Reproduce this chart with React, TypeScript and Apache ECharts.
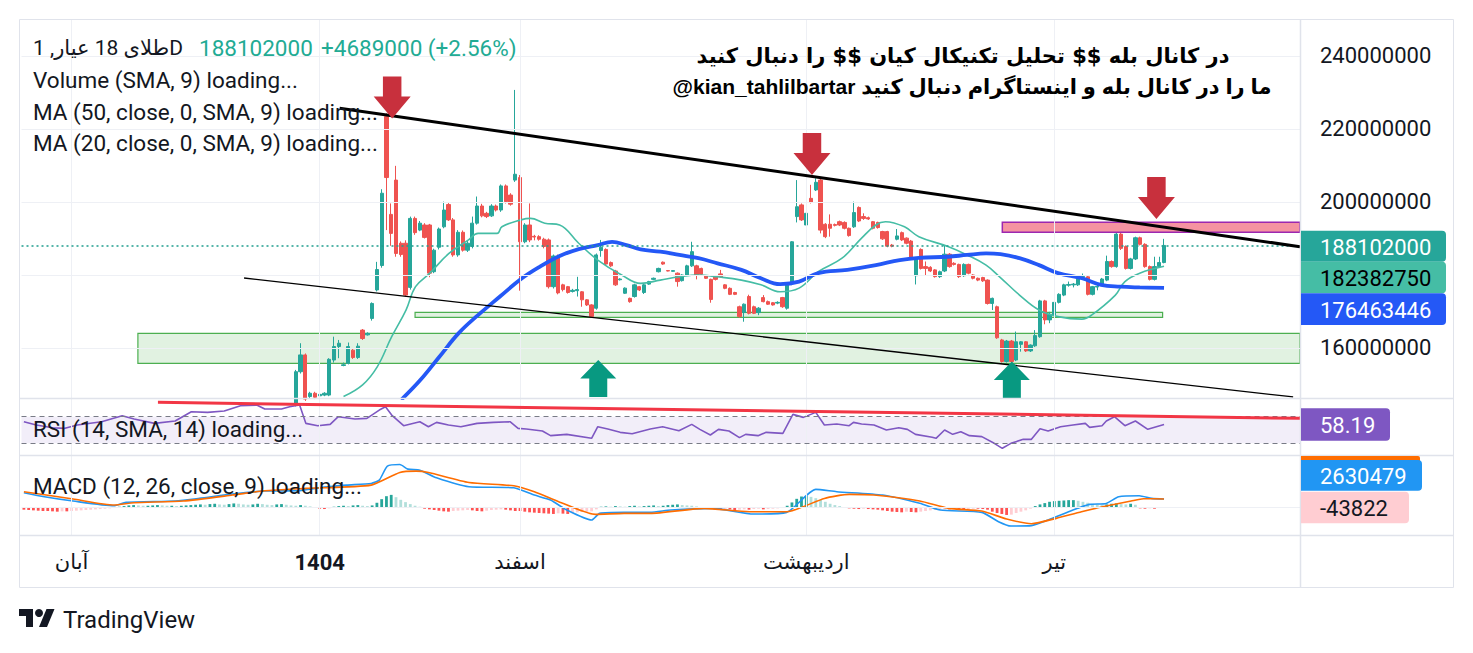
import { useEffect, useRef } from 'react';
import * as echarts from 'echarts';

const FONT = 'Roboto, "DejaVu Sans", sans-serif';
const N_SLOTS = 268;
const CANDLE_START = 57;

// candles [open, close, low, high] in millions, index CANDLE_START..239
const candles = [
  [144.5, 153.5, 144.0, 154.0], [153.5, 158.1, 153.0, 161.3], [158.1, 146.0, 145.5, 158.5], [146.7, 147.6, 146.2, 148.0],
  [147.6, 146.5, 146.0, 148.0], [146.9, 147.3, 146.6, 147.7], [147.1, 147.6, 146.8, 147.9], [147.1, 156.9, 146.8, 157.2],
  [156.7, 160.4, 156.0, 163.1], [160.4, 161.3, 157.2, 162.2], [155.2, 155.4, 155.0, 156.0], [155.8, 160.4, 155.5, 161.5],
  [159.4, 157.4, 157.0, 160.0], [157.4, 160.5, 157.0, 161.3], [164.9, 162.6, 162.2, 165.2], [163.6, 164.0, 163.4, 164.3],
  [168.1, 172.2, 167.5, 172.5], [175.9, 181.5, 175.5, 183.6], [182.6, 202.4, 182.0, 203.5], [223.4, 206.7, 192.3, 224.3],
  [196.6, 191.4, 188.0, 199.6], [206.0, 185.9, 185.0, 209.9], [188.7, 185.6, 185.0, 189.2], [188.7, 174.5, 174.0, 189.5],
  [176.6, 195.5, 176.0, 196.0], [195.5, 191.6, 191.0, 196.0], [192.3, 194.2, 192.0, 194.8], [193.7, 190.3, 190.0, 194.2],
  [193.7, 180.5, 179.4, 194.0], [180.9, 186.8, 180.5, 187.2], [187.6, 192.6, 187.0, 193.0], [193.2, 197.8, 192.8, 200.1],
  [199.3, 195.1, 194.8, 199.7], [195.1, 185.5, 185.0, 195.6], [185.5, 191.7, 185.0, 192.3], [191.7, 186.8, 186.4, 192.2],
  [186.8, 188.7, 186.3, 189.3], [187.8, 194.2, 187.3, 196.0], [194.2, 198.9, 193.8, 201.5], [198.9, 196.2, 195.8, 199.5],
  [196.9, 196.0, 195.6, 197.3], [196.2, 198.9, 195.9, 199.4], [198.9, 197.8, 197.4, 199.3], [197.8, 204.4, 197.3, 204.8],
  [204.4, 200.1, 199.6, 204.8], [201.9, 199.4, 199.0, 202.4], [206.0, 207.6, 205.5, 230.7], [206.7, 189.1, 175.7, 207.4],
  [189.1, 193.7, 188.7, 194.2], [193.7, 189.6, 189.0, 199.6], [190.6, 190.4, 189.5, 191.0], [190.5, 189.8, 189.4, 190.9],
  [189.8, 187.8, 187.3, 190.2], [189.6, 176.8, 176.3, 190.0], [176.8, 185.2, 176.3, 185.6], [185.2, 175.1, 174.7, 185.6],
  [177.3, 176.0, 175.5, 177.6], [176.8, 175.2, 174.9, 177.0], [175.5, 175.8, 175.2, 176.2], [175.7, 176.0, 174.1, 179.5],
  [175.4, 173.2, 171.3, 175.6], [173.2, 171.8, 171.5, 173.4], [171.8, 168.6, 168.3, 172.0], [170.9, 185.5, 170.5, 185.9],
  [186.7, 187.6, 185.0, 189.6], [187.0, 183.0, 182.7, 187.3], [183.4, 182.5, 182.2, 183.7], [181.1, 177.3, 177.0, 181.4],
  [178.7, 178.9, 178.5, 179.1], [175.0, 176.4, 174.8, 176.6], [173.6, 172.7, 172.4, 173.8], [174.1, 177.3, 173.8, 177.6],
  [176.8, 175.9, 175.6, 177.0], [175.2, 177.3, 174.8, 177.5], [177.5, 178.2, 177.3, 178.4], [178.8, 179.1, 178.6, 179.3],
  [180.9, 181.8, 180.7, 182.0], [183.5, 183.0, 182.8, 183.7], [181.2, 181.1, 181.0, 181.3], [181.0, 181.2, 180.9, 181.3],
  [180.5, 178.2, 176.8, 180.7], [178.45, 180.0, 178.2, 180.2], [180.0, 182.5, 179.8, 182.8], [182.5, 186.4, 182.2, 189.1],
  [182.5, 180.0, 178.8, 182.8], [181.8, 180.2, 180.0, 182.0], [179.7, 179.1, 178.9, 179.9], [178.8, 173.3, 172.4, 179.0],
  [179.7, 178.8, 178.5, 180.0], [180.3, 179.5, 179.3, 181.4], [177.3, 176.35, 176.1, 177.5], [176.35, 174.7, 174.5, 176.6],
  [175.2, 174.7, 174.5, 175.4], [171.3, 168.6, 168.3, 171.6], [169.7, 172.0, 167.2, 172.2], [174.1, 169.5, 169.2, 174.6],
  [171.3, 169.5, 169.3, 171.6], [169.7, 170.9, 169.0, 171.2], [173.8, 172.7, 172.5, 174.5], [172.7, 172.0, 171.8, 173.0],
  [172.4, 171.8, 171.6, 172.6], [172.3, 172.5, 172.0, 172.8], [173.8, 171.3, 171.0, 174.0], [170.9, 177.7, 170.5, 178.0],
  [177.7, 189.1, 177.2, 189.3], [196.0, 198.7, 194.4, 206.0], [199.2, 195.1, 194.8, 199.6], [193.7, 196.9, 193.4, 197.2],
  [201.0, 199.9, 199.6, 204.7], [203.3, 205.4, 203.0, 206.5], [206.0, 192.3, 191.4, 206.3], [193.9, 190.5, 190.1, 194.2],
  [193.9, 192.8, 190.5, 196.6], [193.8, 193.6, 193.3, 194.1], [194.6, 193.7, 193.4, 194.9], [194.4, 192.8, 192.5, 194.7],
  [192.8, 190.8, 190.5, 193.0], [193.2, 197.1, 192.9, 200.1], [198.5, 194.8, 194.5, 198.8], [196.0, 195.5, 195.1, 196.9],
  [195.7, 195.35, 195.1, 196.0], [194.6, 192.8, 192.5, 194.8], [194.4, 193.0, 192.7, 194.6], [191.9, 189.9, 189.6, 192.1],
  [191.9, 187.9, 187.6, 192.1], [188.2, 187.9, 187.6, 188.5], [189.8, 190.7, 189.5, 192.6], [191.6, 189.6, 189.3, 191.9],
  [190.1, 188.7, 188.4, 190.3], [189.3, 184.6, 184.3, 189.6], [179.8, 184.4, 177.4, 184.7], [187.0, 181.8, 181.5, 187.3],
  [182.3, 181.8, 180.0, 183.7], [182.1, 181.1, 180.8, 182.4], [181.4, 179.55, 179.3, 181.6], [179.55, 180.9, 179.2, 181.2],
  [181.1, 185.7, 180.8, 188.2], [185.7, 182.3, 182.0, 186.0], [183.2, 182.9, 182.6, 183.5], [182.9, 179.55, 179.2, 183.1],
  [179.8, 182.9, 179.5, 183.2], [182.9, 180.5, 180.2, 183.1], [180.0, 179.1, 178.8, 180.2], [179.1, 178.6, 178.3, 179.3],
  [179.3, 178.4, 178.1, 179.5], [178.6, 172.2, 171.9, 178.8], [172.2, 173.6, 170.4, 173.8], [171.3, 162.8, 162.5, 171.6],
  [162.2, 156.3, 156.0, 162.5], [156.3, 161.9, 156.0, 162.2], [161.9, 156.3, 156.0, 162.2], [156.7, 161.7, 156.4, 164.5],
  [161.0, 161.7, 159.0, 161.9], [161.7, 159.2, 158.9, 161.9], [159.2, 160.8, 158.9, 161.0], [160.6, 163.4, 160.3, 164.9],
  [163.1, 172.9, 162.8, 173.2], [172.9, 167.7, 166.5, 173.2], [167.7, 169.2, 166.8, 169.9], [169.0, 172.5, 168.7, 172.8],
  [172.5, 174.7, 172.2, 175.0], [174.5, 177.3, 174.2, 177.6], [177.2, 177.4, 176.8, 178.2], [177.3, 177.5, 176.6, 177.8],
  [177.3, 179.3, 177.0, 179.6], [179.4, 179.6, 179.2, 180.4], [179.5, 174.7, 174.4, 179.8], [174.7, 176.8, 174.4, 177.0],
  [176.7, 176.9, 175.8, 177.6], [177.3, 178.9, 177.0, 179.2], [178.6, 183.7, 178.3, 185.3], [183.7, 182.3, 182.0, 184.0],
  [182.3, 191.2, 182.0, 191.5], [191.2, 187.3, 186.85, 191.5], [187.8, 181.8, 181.5, 188.1], [181.8, 184.4, 181.5, 184.7],
  [184.4, 190.2, 184.1, 190.5], [190.2, 188.4, 188.1, 190.5], [188.4, 182.3, 182.0, 188.7], [182.3, 178.8, 178.5, 182.6],
  [178.8, 182.3, 178.5, 185.0], [182.3, 183.413, 182.0, 185.0], [183.413, 188.102, 183.2, 189.9],
];

const ma20Idx = [67, 71, 74.1, 77.1, 80.1, 82.1, 85.1, 89.1, 93.2, 95.2, 99.2, 100.2, 104.2, 106.2, 109.2, 112.3, 116.3, 120.3, 125.3, 129.3, 133.4, 137.4, 141.4, 145.4, 150.4, 154.5, 158.5, 162.5, 166.5, 171.5, 175.6, 178.6, 180.6, 184.6, 187.6, 193.7, 197.7, 201.7, 204.7, 208.7, 212.8, 216.8, 221.8, 223.8, 228.8, 230.8, 233.9, 239];
const ma20Val = [146.7, 149.9, 154.9, 163.1, 170.4, 176.8, 180.5, 185.9, 189.6, 191.4, 191.4, 193.2, 195.1, 195.5, 194.2, 193.7, 188.7, 184.1, 180.0, 177.7, 178.6, 179.5, 180.0, 179.5, 178.6, 177.3, 175.4, 176.4, 180.9, 184.6, 190.1, 193.7, 194.6, 193.2, 190.5, 187.8, 185.5, 182.7, 179.3, 174.5, 170.4, 168.6, 167.9, 169.0, 174.5, 178.2, 180.5, 182.38275];

const ma50Idx = [79.1, 83.1, 87.1, 91.1, 95.2, 99.8, 104.2, 108.2, 112.3, 116.3, 120.3, 123.3, 126.3, 129.3, 133.4, 137.4, 141.4, 145.4, 150.4, 154.5, 158.5, 162.5, 166.5, 172.6, 178.6, 183.6, 187.6, 193.7, 197.7, 201.7, 204.7, 208.7, 212.8, 216.8, 221.8, 225.8, 229.8, 233.9, 239];
const ma50Val = [145.8, 151.2, 157.6, 164.0, 169.0, 174.1, 178.9, 182.3, 185.2, 187.1, 188.2, 189.1, 188.2, 187.0, 186.4, 185.5, 184.6, 183.2, 181.4, 179.1, 177.5, 178.2, 180.5, 181.4, 182.7, 184.1, 184.7, 185.0, 185.5, 185.9, 185.7, 184.6, 182.7, 180.5, 179.1, 177.3, 176.8, 176.6, 176.463446];

const rsiIdx = [0, 2.6, 6.0, 8.6, 11.2, 16.3, 20.6, 23.1, 27.4, 31.7, 35.1, 38.5, 42.0, 45.4, 48.8, 50.5, 54.0, 55.7, 57.8, 59.1, 61.6, 64.2, 65.9, 69.4, 71.9, 74.5, 75.8, 77.1, 79.6, 83.0, 84.8, 86.5, 89.0, 91.6, 95.0, 98.4, 101.9, 103.6, 105.3, 108.7, 110.4, 113.8, 119.0, 120.3, 122.4, 125.0, 127.5, 131.3, 133.9, 137.3, 140.0, 141.7, 143.9, 145.6, 147.8, 150.0, 151.3, 153.9, 155.6, 159.1, 161.2, 163.4, 166.0, 167.8, 170.4, 173.0, 173.9, 175.6, 178.2, 180.8, 183.4, 185.2, 186.9, 190.4, 191.2, 193.0, 194.7, 196.4, 198.2, 200.8, 203.4, 205.1, 206.9, 209.5, 211.2, 213.0, 214.7, 217.3, 219.9, 222.5, 223.4, 226.0, 226.9, 228.6, 230.8, 233.0, 235.6, 239.0];
const rsiVal = [62.5, 57.5, 53.5, 52.5, 57.5, 62.5, 71.5, 66.5, 60, 63.5, 77.5, 76.5, 78.5, 86.5, 87.5, 81.5, 81.5, 85, 87.5, 60, 56.5, 58.5, 70, 66.5, 67.5, 80, 85, 72.5, 56.5, 62.5, 55, 61.5, 57.5, 55, 60, 61.5, 62.5, 52.5, 51.5, 48.5, 41.5, 43.5, 37.5, 55, 51.5, 46.5, 44.5, 51.5, 55, 49, 58.5, 51, 42.5, 51, 48.5, 38.5, 43.5, 41.5, 46.5, 45, 73.5, 69, 76.5, 57.5, 59, 56.5, 61.5, 59, 57.5, 50, 53.5, 51, 43.5, 39, 37.5, 50, 43.5, 47.5, 41.5, 40, 30, 22.5, 30, 36, 36, 52, 48.5, 55, 57.5, 60, 54, 56.5, 63.5, 70, 56.5, 63.5, 51, 58.19];
const rsiLevels = [70, 30];

// MACD values in millions
const macdIdx = [0, 4.3, 10.3, 18.9, 21.4, 31.7, 36.8, 43.7, 50.5, 57.4, 62.5, 67.6, 72.8, 74.5, 76.2, 78.8, 80.5, 83.0, 86.5, 93.3, 102.7, 107.0, 110.4, 113.8, 119.0, 120.7, 125.8, 131.3, 135.6, 144.3, 153.0, 159.9, 166.0, 170.4, 180.0, 187.8, 192.1, 200.8, 204.3, 206.9, 211.2, 214.7, 219.9, 223.4, 226.9, 229.5, 233.8, 236.4, 239.0];
const macdVal = [4.55, 3.34, 2.03, 0.61, 1.62, 2.03, 2.84, 4.15, 5.06, 5.16, 6.17, 6.87, 7.38, 8.39, 12.63, 13.13, 11.72, 11.41, 9.09, 6.36, 6.06, 3.84, 2.33, -0.71, -3.74, -1.72, -1.41, -1.41, -0.71, -0.20, -1.92, -1.41, 5.56, 4.86, 3.84, 1.33, -0.71, -1.41, -4.24, -5.56, -5.45, -3.74, -0.71, 1.01, 1.31, 3.33, 3.64, 2.83, 2.63];
const signalIdx = [0, 10.3, 18.9, 23.1, 33.4, 43.7, 50.5, 59.1, 72.8, 78.8, 82.2, 84.8, 93.3, 102.7, 107.0, 112.1, 119.8, 125.8, 131.3, 142.6, 152.1, 159.9, 167.8, 173.0, 178.2, 187.8, 193.9, 200.8, 206.0, 211.2, 216.4, 221.7, 226.9, 232.1, 234.7, 239.0];
const signalVal = [4.85, 2.64, 0.81, 1.52, 2.03, 3.84, 5.16, 5.87, 6.87, 10.71, 11.11, 10.71, 7.68, 6.67, 4.85, 1.82, -2.02, -1.72, -1.72, -0.20, -1.21, -1.21, 2.83, 4.04, 3.84, 2.03, -0.20, -1.01, -3.43, -4.85, -3.23, -1.21, 0.51, 2.03, 2.73, 2.67];
const macdHist = [
  -0.6, -0.7, -0.8, -0.9, -1.0, -1.0, -1.1, -1.2,
  -1.1, -1.1, -1.0, -0.9, -0.8, -0.7, -0.6, -0.5, -0.4, -0.3, -0.2, -0.1,
  0.3, 0.5, 0.7, 0.8, 0.7, 0.6, 0.6, 0.7, 0.8, 0.7, 0.6, 0.6, 0.5, 0.6, 0.7, 0.8,
  0.9, 1.0, 0.9, 1.1, 1.2, 1.0, 0.9, 1.1, 1.3, 1.2, 1.0, 0.9, 1.0, 1.2, 1.1, 0.9, 0.8, 1.0, 1.1, 0.9, 0.7, 0.6, 0.8, 0.6, 0.4, 0.2,
  -0.3, -0.4, -0.2,
  0.3, 0.5, 0.6, 0.5, 0.7, 0.8, 0.6, 0.5, 0.7,
  1.5, 2.6, 3.5, 3.9,
  3.2, 2.4, 1.7, 1.1, 0.6, 0.3,
  -0.3, -0.5, -0.7, -0.9, -1.1, -1.2, -1.0, -0.9, -0.8, -0.7, -0.8, -1.0, -1.1, -0.9, -0.7, -0.6, -0.5, -0.6, -0.8, -1.0,
  -1.0, -1.2, -1.4, -1.5, -1.6, -1.7, -1.8, -1.9, -1.7, -1.8, -1.9,
  -1.6, -1.4, -1.3, -1.2, -1.1, -0.5, 0.3,
  0.4, 0.3, 0.5, 0.4, 0.3, 0.5, 0.6, 0.4, 0.5, 0.6, 0.7, 0.5,
  0.6, 0.8, 0.9, 1.0, 0.8, 0.7, 0.6, 0.4, 0.2,
  -0.3, -0.4, -0.5, -0.6, -0.4, -0.5, -0.7, -0.6, -0.5, -0.6, -0.4, -0.3, -0.5, -0.4, -0.3, -0.2, -0.1,
  0.6, 1.6, 2.7, 3.4, 3.6, 3.3, 2.9,
  2.4, 1.8, 1.2, 0.8, 0.5, 0.2,
  -0.2, -0.3, -0.4, -0.3, -0.4, -0.5, -0.6,
  -0.8, -1.0, -1.2, -1.3, -1.4, -1.2, -1.3, -1.4, -1.2, -1.0,
  -0.8, -0.7, -0.6, -0.5, -0.5, -0.4, -0.4, -0.5, -0.4, -0.3, -0.3, -0.4, -0.6,
  -1.2, -1.6, -1.9, -2.2, -2.1,
  -1.6, -1.2, -0.8, -0.3,
  0.5, 1.0, 1.4, 1.8, 2.0, 2.1, 2.2, 2.3, 2.3, 2.1,
  1.8, 1.5, 1.2, 1.0, 0.8,
  1.0, 1.2, 1.3, 1.1, 1.0, 1.2, 0.9,
  -0.2, -0.3, -0.2, -0.3, -0.1, -0.044,
];

const xTickIdx = [10, 62, 104, 164, 216];
const xTickText = ['آبان', '1404', 'اسفند', 'اردیبهشت', 'تیر'];
const xTickBold = [false, true, false, false, false];
const priceTickValues = [160, 200, 220, 240];
const priceTickLabels = ['160000000', '200000000', '220000000', '240000000'];
const priceGridValues = [160, 180, 200, 220, 240];

const symbolName = 'طلای 18 عیار, 1D';
const lastCloseM = 188.102;
const lastCloseText = '188102000';
const changeText = '+4689000 (+2.56%)';
const ma20Text = '182382750';
const ma50Text = '176463446';
const rsiText = '58.19';
const macdText = '2630479';
const histText = '-43822';
const legendLines = ['Volume (SMA, 9) loading...', 'MA (50, close, 0, SMA, 9) loading...', 'MA (20, close, 0, SMA, 9) loading...'];
const rsiLegend = 'RSI (14, SMA, 14) loading...';
const macdLegend = 'MACD (12, 26, close, 9) loading...';
const noteLine1 = 'در کانال بله $$ تحلیل تکنیکال کیان $$ را دنبال کنید';
const noteLine2 = '@kian_tahlilbartar ما را در کانال بله و اینستاگرام دنبال کنید';

// drawings in (bar index, price) coordinates
const trendUpper = [[66.19, 225.67], [267.5, 187.75]];
const trendLower = [[46.15, 179.18], [266.06, 146.58]];
const rsiTrend = [[28.1, 91.65], [267.5, 67.6]];
const zoneThin = [[82.0, 169.78], [238.7, 168.41]];
const zoneBig = [[23.9, 164.03], [267.5, 155.81]];
const zonePink = [[205.1, 194.44], [267.5, 191.7]];
const arrowsDown = [[77.2, 228.63], [165.2, 213.15], [237.4, 201.1]];
const arrowsUp = [[120.4, 151.64], [207.1, 151.23]];

const MAIN_MIN = 146.3;
const MAIN_MAX = 249.86;

const DOWN_ARROW = 'path://M9,0 L27,0 L27,20 L36,20 L18,42 L0,20 L9,20 Z';
const UP_ARROW = 'path://M18,0 L36,20 L27,20 L27,40 L9,40 L9,20 L0,20 Z';

export default function App() {
  const ref = useRef<HTMLDivElement>(null);
  useEffect(() => {
    if (!ref.current) return;
    const chart = echarts.init(ref.current, null, { renderer: 'svg' });
    const cats = Array.from({ length: N_SLOTS }, (_, i) => String(i));
    const candleData: any[] = [];
    for (let i = 0; i < CANDLE_START; i++) candleData.push(['-', '-', '-', '-']);
    candles.forEach((c) => candleData.push(c));
    const histColors = macdHist.map((v, i) => {
      const p = i > 0 ? macdHist[i - 1] : v;
      if (v >= 0) return v >= p ? '#26A69A' : '#B2DFDB';
      return v <= p ? '#FF5252' : '#FFCDD2';
    });
    const zip = (a: number[], b: number[]) => a.map((x, i) => [x, b[i]]);
    const gridL = 21.5;
    const gridW = 1278.5;
    const gl = '#EEF0F5';
    const vLines = xTickIdx.map((i) => ({ xAxis: i }));
    const hidden = { show: false };

    const txt = (text: string, x: number, y: number, opts: any = {}) => ({
      type: 'text', x, y, z: 100, silent: true,
      style: { text, fill: '#131722', fontSize: 22.5, fontFamily: FONT, align: 'left', verticalAlign: 'middle', ...opts },
    });
    const valueBox = (x: number, y: number, w: number, h: number, fill: string, text: string, color: string) => ([
      { type: 'rect', z: 100, silent: true, shape: { x, y, width: w, height: h, r: [0, 4, 4, 0] }, style: { fill } },
      txt(text, 1320, y + h / 2 + 1, { fill: color, fontSize: 22 }),
    ]);

    const option: any = {
      animation: false,
      backgroundColor: '#ffffff',
      grid: [
        { left: gridL, top: 20, width: gridW, height: 378, outerBoundsMode: 'none' },
        { left: gridL, top: 399, width: gridW, height: 56.7, outerBoundsMode: 'none' },
        { left: gridL, top: 455.7, width: gridW, height: 80, outerBoundsMode: 'none' },
      ],
      xAxis: [
        { type: 'category', gridIndex: 0, data: cats, show: false },
        { type: 'value', gridIndex: 0, min: -0.5, max: N_SLOTS - 0.5, show: false },
        { type: 'category', gridIndex: 1, data: cats, show: false },
        { type: 'value', gridIndex: 1, min: -0.5, max: N_SLOTS - 0.5, show: false },
        {
          type: 'category', gridIndex: 2, data: cats,
          axisLine: hidden, axisTick: hidden, splitLine: hidden,
          axisLabel: {
            interval: (i: number) => xTickIdx.includes(i),
            formatter: (_v: string, i: number) => {
              const k = xTickIdx.indexOf(i);
              if (k < 0) return '';
              return xTickBold[k] ? '{b|' + xTickText[k] + '}' : xTickText[k];
            },
            margin: 16, fontSize: 21, color: '#131722', fontFamily: FONT,
            rich: { b: { fontWeight: 'bold', fontSize: 22, fontFamily: FONT, color: '#131722' } },
          },
        },
        { type: 'value', gridIndex: 2, min: -0.5, max: N_SLOTS - 0.5, show: false },
      ],
      yAxis: [
        {
          type: 'value', gridIndex: 0, position: 'right', min: MAIN_MIN, max: MAIN_MAX,
          axisLine: hidden, axisTick: hidden, splitLine: hidden,
          axisLabel: {
            customValues: priceTickValues,
            formatter: (v: number) => {
              const k = priceTickValues.indexOf(Math.round(v));
              return k >= 0 ? priceTickLabels[k] : '';
            },
            margin: 20, fontSize: 22, color: '#131722', fontFamily: FONT,
          },
        },
        { type: 'value', gridIndex: 1, min: 11.4, max: 96.6, show: false },
        { type: 'value', gridIndex: 2, min: -8.5, max: 15.8, show: false },
      ],
      series: [
        {
          type: 'line', xAxisIndex: 1, yAxisIndex: 0, data: [], z: 0, silent: true,
          markLine: {
            silent: true, symbol: 'none', label: { show: false }, animation: false,
            lineStyle: { color: gl, width: 1, type: 'solid' },
            data: [...priceGridValues.map((v) => ({ yAxis: v })), ...vLines],
          },
        },
        {
          type: 'line', xAxisIndex: 3, yAxisIndex: 1, data: [], z: 0, silent: true,
          markArea: {
            silent: true, itemStyle: { color: 'rgba(126,87,194,0.1)' },
            data: [[{ yAxis: rsiLevels[1] }, { yAxis: rsiLevels[0] }]],
          },
          markLine: {
            silent: true, symbol: 'none', label: { show: false }, animation: false,
            data: [
              ...vLines.map((d) => ({ ...d, lineStyle: { color: gl, width: 1, type: 'solid' } })),
              ...rsiLevels.map((v) => ({ yAxis: v, lineStyle: { color: '#787B86', width: 1, type: [5, 4] } })),
            ],
          },
        },
        {
          type: 'line', xAxisIndex: 5, yAxisIndex: 2, data: [], z: 0, silent: true,
          markLine: {
            silent: true, symbol: 'none', label: { show: false }, animation: false,
            lineStyle: { color: gl, width: 1, type: 'solid' },
            data: [{ yAxis: 0 }, ...vLines],
          },
        },
        {
          type: 'candlestick', xAxisIndex: 0, yAxisIndex: 0, data: candleData, barWidth: 3.8, clip: true, z: 2,
          itemStyle: { color: '#26A69A', color0: '#EF5350', borderColor: '#26A69A', borderColor0: '#EF5350', borderWidth: 1 },
          markLine: {
            silent: true, symbol: 'none', label: { show: false }, animation: false,
            lineStyle: { color: '#1E9E8E', width: 1.5, type: [2, 3], opacity: 1 },
            data: [{ yAxis: lastCloseM }],
          },
        },
        {
          type: 'line', xAxisIndex: 1, yAxisIndex: 0, data: zip(ma20Idx, ma20Val), smooth: 0.4,
          showSymbol: false, lineStyle: { color: '#45BDA5', width: 1.6 }, z: 3, clip: true, silent: true,
        },
        {
          type: 'line', xAxisIndex: 1, yAxisIndex: 0, data: zip(ma50Idx, ma50Val), smooth: 0.4,
          showSymbol: false, lineStyle: { color: '#2458F6', width: 3.8 }, z: 3, clip: true, silent: true,
        },
        {
          type: 'line', xAxisIndex: 1, yAxisIndex: 0, data: trendUpper, showSymbol: false, z: 5, silent: true,
          lineStyle: { color: '#000000', width: 3 }, clip: true,
        },
        {
          type: 'line', xAxisIndex: 1, yAxisIndex: 0, data: trendLower, showSymbol: false, z: 5, silent: true,
          lineStyle: { color: '#000000', width: 1.3 }, clip: true,
          markArea: {
            silent: true,
            data: [
              [{ coord: zoneBig[0], itemStyle: { color: 'rgba(76,175,80,0.17)', borderColor: '#4CAF50', borderWidth: 1.2 } }, { coord: zoneBig[1] }],
              [{ coord: zoneThin[0], itemStyle: { color: 'rgba(76,175,80,0.17)', borderColor: '#4CAF50', borderWidth: 1.2 } }, { coord: zoneThin[1] }],
              [{ coord: zonePink[0], itemStyle: { color: 'rgba(242,120,138,0.8)', borderColor: '#9C27B0', borderWidth: 1.5 } }, { coord: zonePink[1] }],
            ],
          },
        },
        {
          type: 'scatter', xAxisIndex: 1, yAxisIndex: 0, z: 6, silent: true,
          itemStyle: { opacity: 1 },
          data: [
            ...arrowsDown.map((p) => ({ value: p, symbol: DOWN_ARROW, symbolSize: [37, 42], itemStyle: { color: '#C8303D', opacity: 1 } })),
            ...arrowsUp.map((p) => ({ value: p, symbol: UP_ARROW, symbolSize: [36, 37], itemStyle: { color: '#089981', opacity: 1 } })),
          ],
        },
        {
          type: 'line', xAxisIndex: 3, yAxisIndex: 1, data: zip(rsiIdx, rsiVal), showSymbol: false,
          lineStyle: { color: '#7E57C2', width: 1.6 }, z: 3, silent: true,
        },
        {
          type: 'line', xAxisIndex: 3, yAxisIndex: 1, data: rsiTrend, showSymbol: false,
          lineStyle: { color: '#F23645', width: 3 }, z: 5, silent: true, clip: true,
        },
        {
          type: 'bar', xAxisIndex: 4, yAxisIndex: 2, barWidth: 2.8, z: 2, silent: true,
          data: macdHist.map((v, i) => ({ value: v, itemStyle: { color: histColors[i] } })),
        },
        {
          type: 'line', xAxisIndex: 5, yAxisIndex: 2, data: zip(macdIdx, macdVal), showSymbol: false, smooth: 0.2,
          lineStyle: { color: '#2196F3', width: 1.6 }, z: 3, silent: true,
        },
        {
          type: 'line', xAxisIndex: 5, yAxisIndex: 2, data: zip(signalIdx, signalVal), showSymbol: false, smooth: 0.2,
          lineStyle: { color: '#FF6D00', width: 1.6 }, z: 3, silent: true,
        },
      ],
      graphic: [
        { type: 'rect', z: 90, silent: true, shape: { x: 19.5, y: 19.5, width: 1434, height: 568 }, style: { fill: 'none', stroke: '#E0E3EB', lineWidth: 1 } },
        { type: 'line', z: 90, silent: true, shape: { x1: 20, y1: 398.5, x2: 1453, y2: 398.5 }, style: { stroke: '#E0E3EB', lineWidth: 1.5 } },
        { type: 'line', z: 90, silent: true, shape: { x1: 20, y1: 455.5, x2: 1453, y2: 455.5 }, style: { stroke: '#E0E3EB', lineWidth: 1.5 } },
        { type: 'line', z: 90, silent: true, shape: { x1: 20, y1: 535.5, x2: 1453, y2: 535.5 }, style: { stroke: '#E0E3EB', lineWidth: 1.5 } },
        { type: 'line', z: 90, silent: true, shape: { x1: 1300.5, y1: 20, x2: 1300.5, y2: 587 }, style: { stroke: '#E0E3EB', lineWidth: 1.5 } },
        txt(symbolName, 33, 47.5, { fontSize: 21 }),
        txt(lastCloseText, 199, 47.5, { fill: '#22AB94' }),
        txt(changeText, 321, 47.5, { fill: '#22AB94' }),
        ...legendLines.map((t, k) => txt(t, 33, 80 + k * 31.5)),
        txt(rsiLegend, 33, 429),
        txt(macdLegend, 33, 485.5),
        txt(noteLine1, 963, 56, { align: 'center', fontWeight: 'bold', fontSize: 21, fill: '#000000', fontFamily: '"DejaVu Sans", sans-serif' }),
        txt(noteLine2, 972, 86, { align: 'center', fontWeight: 'bold', fontSize: 21, fill: '#000000', fontFamily: '"Liberation Sans", "DejaVu Sans", sans-serif' }),
        ...valueBox(1301, 230.7, 145, 31, '#26A69A', lastCloseText, '#ffffff'),
        ...valueBox(1301, 261.7, 145, 31.6, '#45BDA5', ma20Text, '#000000'),
        ...valueBox(1301, 293.3, 145, 31.7, '#2458F6', ma50Text, '#ffffff'),
        ...valueBox(1301, 408.3, 89, 32.4, '#7E57C2', rsiText, '#ffffff'),
        { type: 'rect', z: 99, silent: true, shape: { x: 1301, y: 456, width: 119, height: 6, r: [0, 2, 0, 0] }, style: { fill: '#FF6D00' } },
        ...valueBox(1301, 460, 121, 30.7, '#2196F3', macdText, '#ffffff'),
        ...valueBox(1301, 491.7, 108, 31.6, '#FFCDD2', histText, '#131722'),
        { type: 'polygon', z: 100, silent: true, shape: { points: [[33, 627], [26, 627], [26, 616], [19, 616], [19, 609], [33, 609]] }, style: { fill: '#131722' } },
        { type: 'polygon', z: 100, silent: true, shape: { points: [[47, 627], [39, 627], [46.5, 609], [54.5, 609]] }, style: { fill: '#131722' } },
        { type: 'circle', z: 100, silent: true, shape: { cx: 39, cy: 613, r: 4 }, style: { fill: '#131722' } },
        txt('TradingView', 63, 619.5, { fontSize: 24 }),
      ],
    };
    chart.setOption(option);
    return () => chart.dispose();
  }, []);
  return <div ref={ref} style={{ position: 'fixed', left: 0, top: 0, width: '1473px', height: '653px', background: '#fff' }} />;
}
